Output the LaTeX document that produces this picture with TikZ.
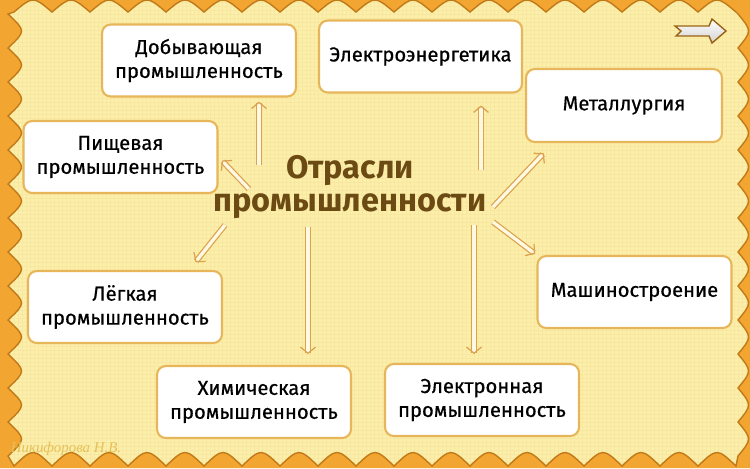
\documentclass[tikz,border=0pt]{standalone}
\usepackage{xcolor}
\usepackage{fontspec}
\setmainfont{Fira Sans}
\newfontfamily\caixafonte{Fira Sans}[FakeBold=0.6]
\newfontfamily\assinfonte{Liberation Serif}
\usepackage{tikz}
\usetikzlibrary{positioning,arrows.meta}

\definecolor{fundo}{HTML}{FCEFAA}
\definecolor{grade}{HTML}{F8E7A0}
\definecolor{laranja}{HTML}{F3A531}
\definecolor{moldura}{HTML}{C07A18}
\definecolor{bordacaixa}{HTML}{E8B65A}
\definecolor{setacor}{HTML}{DCA24E}
\definecolor{setafundo}{HTML}{FFF8E2}
\definecolor{marrom}{HTML}{6B4A14}
\definecolor{assincor}{HTML}{E6C15A}

% contorno recortado da moldura
\newcommand\bordaPath{(14,12)
  \foreach \i in {1,...,19}{ .. controls ({14+(\i-0.5)*38},-4) .. ({14+\i*38},12)}
  -- (738,14)
  \foreach \i in {1,...,13}{ .. controls (752,{14+(\i-0.5)*(442/13)}) .. (738,{14+\i*(442/13)})}
  -- (736,466)
  \foreach \i in {1,...,19}{ .. controls ({736-(\i-0.5)*38},448) .. ({736-\i*38},466)}
  -- (8,456)
  \foreach \i in {1,...,13}{ .. controls (26,{456-(\i-0.5)*(442/13)}) .. (8,{456-\i*(442/13)})}
  -- cycle}

\begin{document}
\begin{tikzpicture}[x=0.02cm,y=-0.02cm,
    caixa/.style={draw=bordacaixa,line width=1.2pt,fill=white,rounded corners=5pt,
      minimum width=3.88cm,minimum height=1.44cm,align=center,
      font=\caixafonte\fontsize{11.5}{13.6}\selectfont},
    titulo/.style={align=center,text=marrom,font=\bfseries\fontsize{18.5}{18.5}\selectfont},
    seta/.style={draw=setacor,line width=0.7pt,double=setafundo,double distance=1.9pt,
      -{Straight Barb[length=3.5pt,width=8.5pt]}}]
    \useasboundingbox (0,0) rectangle (750,468);

    % Fundo com grade
    \fill[fundo] (0,0) rectangle (750,468);
    \foreach \x in {2,6,...,750} \draw[grade,line width=0.3pt] (\x,0) -- (\x,468);
    \foreach \y in {2,6,...,468} \draw[grade,line width=0.3pt] (0,\y) -- (750,\y);

    % Moldura laranja
    \path[fill=laranja,even odd rule] (0,0) rectangle (750,468) \bordaPath;
    \draw[moldura,line width=0.8pt] \bordaPath;

    % Titulo central
    \node[titulo] (tit) at (350,187) {Отрасли\\промышленности};

    % Caixas
    \node[caixa] (dob) at (199,60.5) {Добывающая\\промышленность};
    \node[caixa,minimum width=4.06cm] (ele) at (420.5,56.5) {Электроэнергетика};
    \node[caixa,minimum width=3.92cm,minimum height=1.46cm] (met) at (624,105.5) {Металлургия};
    \node[caixa] (pis) at (120.5,157) {Пищевая\\промышленность};
    \node[caixa] (mash) at (634.5,292) {Машиностроение};
    \node[caixa] (leg) at (125,307) {Лёгкая\\промышленность};
    \node[caixa] (him) at (254,402) {Химическая\\промышленность};
    \node[caixa] (elet) at (482,400) {Электронная\\промышленность};

    % Inicio das setas
    \coordinate (sDob) at (259,165);
    \coordinate (sPis) at (249,189);
    \coordinate (sEle) at (481,170);
    \coordinate (sMet) at (493,207);
    \coordinate (sMash) at (493,222);
    \coordinate (sElet) at (474,225);
    \coordinate (sHim) at (308,227);
    \coordinate (sLeg) at (225,225);

    % Setas
    \draw[seta,shorten >=2.3pt] (sDob) -- (sDob |- dob.south);
    \draw[seta,shorten >=2.8pt] (sPis) -- (pis.east);
    \draw[seta,shorten >=6.8pt] (sEle) -- (sEle |- ele.south);
    \draw[seta,shorten >=8pt] (sMet) -- (met.208);
    \draw[seta,shorten >=1pt] (sMash) -- (mash.north west);
    \draw[seta,shorten >=5.1pt] (sElet) -- (sElet |- elet.north);
    \draw[seta,shorten >=6.2pt] (sHim) -- (sHim |- him.north);
    \draw[seta,shorten >=5.7pt] (sLeg) -- (leg.30);

    % Botao de seta
    \draw[draw=moldura!80!black,line width=0.8pt,top color=white,bottom color=gray!35]
      (675,26) -- (709,26) -- (712,19) -- (726,31) -- (712,43) -- (709,36) -- (676,36) -- (681,31) -- cycle;

    % Assinatura
    \node[text=assincor,font=\assinfonte\itshape\fontsize{8.5}{10}\selectfont] (assin) at (66,449) {Никифорова Н.В.};

\end{tikzpicture}
\end{document}
